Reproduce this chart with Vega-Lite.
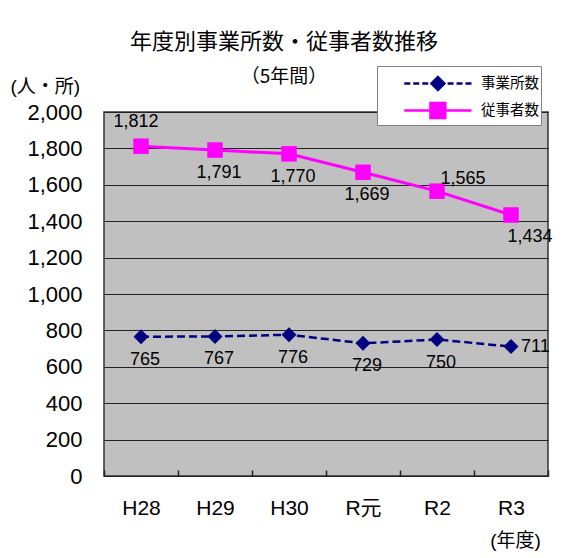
{
  "$schema": "https://vega.github.io/schema/vega-lite/v6.json",
  "width": 444,
  "height": 364,
  "autosize": {"type": "none"},
  "padding": {"left": 104, "top": 112, "right": 16, "bottom": 82},
  "background": "white",
  "config": {
    "font": "Liberation Sans, Noto Sans CJK JP",
    "view": {"fill": "#c0c0c0", "stroke": "#333333", "strokeWidth": 1.5}
  },
  "title": {
    "text": "年度別事業所数・従事者数推移",
    "subtitle": "（5年間）",
    "anchor": "middle",
    "frame": "group",
    "dx": -42,
    "offset": -22,
    "font": "Noto Sans CJK JP",
    "fontSize": 22,
    "fontWeight": "normal",
    "color": "black",
    "subtitleFont": "Noto Sans CJK JP",
    "subtitleFontSize": 19,
    "subtitleColor": "black",
    "subtitlePadding": 14
  },
  "data": {
    "values": [
      {"year": "H28", "series": "事業所数", "value": 765},
      {"year": "H29", "series": "事業所数", "value": 767},
      {"year": "H30", "series": "事業所数", "value": 776},
      {"year": "R元", "series": "事業所数", "value": 729},
      {"year": "R2", "series": "事業所数", "value": 750},
      {"year": "R3", "series": "事業所数", "value": 711},
      {"year": "H28", "series": "従事者数", "value": 1812},
      {"year": "H29", "series": "従事者数", "value": 1791},
      {"year": "H30", "series": "従事者数", "value": 1770},
      {"year": "R元", "series": "従事者数", "value": 1669},
      {"year": "R2", "series": "従事者数", "value": 1565},
      {"year": "R3", "series": "従事者数", "value": 1434}
    ]
  },
  "encoding": {
    "x": {
      "field": "year",
      "type": "ordinal",
      "sort": ["H28", "H29", "H30", "R元", "R2", "R3"],
      "scale": {"type": "band", "paddingInner": 0, "paddingOuter": 0},
      "axis": {
        "title": "(年度)",
        "titleX": 411,
        "titleY": 64,
        "titleAlign": "center",
        "titleBaseline": "middle",
        "titleFont": "Liberation Sans, Noto Sans CJK JP",
        "titleFontSize": 19,
        "titleFontWeight": "normal",
        "titleColor": "black",
        "labelAngle": 0,
        "labelFontSize": 21,
        "labelColor": "black",
        "labelPadding": 27,
        "ticks": true,
        "tickBand": "extent",
        "tickSize": -6,
        "tickColor": "#222222",
        "tickWidth": 1.5,
        "domain": false,
        "grid": false
      }
    },
    "y": {
      "field": "value",
      "type": "quantitative",
      "scale": {"domain": [0, 2000], "nice": false},
      "axis": {
        "title": "(人・所)",
        "titleAngle": 0,
        "titleX": -94,
        "titleY": -26,
        "titleAlign": "left",
        "titleBaseline": "middle",
        "titleFont": "Liberation Sans, Noto Sans CJK JP",
        "titleFontSize": 19,
        "titleFontWeight": "normal",
        "titleColor": "black",
        "values": [0, 200, 400, 600, 800, 1000, 1200, 1400, 1600, 1800, 2000],
        "format": ",.0f",
        "labelFontSize": 22,
        "labelColor": "black",
        "labelPadding": 22,
        "ticks": false,
        "domain": false,
        "grid": true,
        "gridColor": "#222222",
        "gridWidth": 1,
        "gridOpacity": 1
      }
    }
  },
  "layer": [
    {
      "transform": [{"filter": "datum.series === '事業所数'"}],
      "mark": {"type": "line", "strokeDash": [8, 4], "strokeWidth": 2.5},
      "encoding": {
        "color": {
          "field": "series",
          "type": "nominal",
          "scale": {"domain": ["事業所数", "従事者数"], "range": ["#000080", "#ff00ff"]},
          "legend": {
            "orient": "none",
            "legendX": 273,
            "legendY": -46,
            "title": null,
            "direction": "vertical",
            "symbolSize": 784,
            "symbolStrokeWidth": 2.5,
            "labelFont": "Noto Sans CJK JP",
            "labelFontSize": 14.5,
            "labelColor": "black",
            "labelOffset": 71,
            "rowPadding": 0,
            "padding": 2,
            "fillColor": "white",
            "strokeColor": "#808080",
            "encode": {
              "legend": {
                "update": {
                  "fill": {"value": "white"},
                  "stroke": {"value": "#808080"},
                  "strokeWidth": {"value": 1},
                  "width": {"value": 182},
                  "height": {"value": 60}
                }
              },
              "symbols": {
                "update": {
                  "shape": {"signal": "datum.value === '事業所数' ? 'M0.7,0H1.13M1.34,0H1.77M1.98,0H2.41M3.79,0H4.22M4.43,0H4.86M5.07,0H5.5M3.1,-0.46L3.56,0L3.1,0.46L2.64,0Z' : 'M0.7,0H5.5M2.57,-0.53H3.63V0.53H2.57Z'"},
                  "fill": {"scale": "color", "field": "value"},
                  "stroke": {"scale": "color", "field": "value"},
                  "fillOpacity": {"value": 1},
                  "strokeDash": {"value": []}
                }
              }
            }
          }
        }
      }
    },
    {
      "transform": [{"filter": "datum.series === '従事者数'"}],
      "mark": {"type": "line", "strokeWidth": 3},
      "encoding": {
        "color": {"field": "series", "type": "nominal"}
      }
    },
    {
      "transform": [{"filter": "datum.series === '事業所数'"}],
      "mark": {"type": "point", "shape": "diamond", "filled": true, "size": 225, "opacity": 1, "color": "#000080"}
    },
    {
      "transform": [{"filter": "datum.series === '従事者数'"}],
      "mark": {"type": "point", "shape": "square", "filled": true, "size": 240, "opacity": 1, "color": "#ff00ff"}
    },
    {
      "transform": [{"filter": "indexof([765, 767, 776, 729, 750, 1791, 1770, 1669], datum.value) >= 0"}],
      "mark": {"type": "text", "dy": 23, "dx": 4, "fontSize": 18, "color": "black", "baseline": "middle"},
      "encoding": {"text": {"field": "value", "type": "quantitative", "format": ","}}
    },
    {
      "transform": [{"filter": "datum.value === 711"}],
      "mark": {"type": "text", "dx": 10, "align": "left", "fontSize": 18, "color": "black", "baseline": "middle"},
      "encoding": {"text": {"field": "value", "type": "quantitative", "format": ","}}
    },
    {
      "transform": [{"filter": "datum.value === 1812"}],
      "mark": {"type": "text", "dy": -24, "dx": -5, "fontSize": 18, "color": "black", "baseline": "middle"},
      "encoding": {"text": {"field": "value", "type": "quantitative", "format": ","}}
    },
    {
      "transform": [{"filter": "datum.value === 1565"}],
      "mark": {"type": "text", "dy": -12, "dx": 26, "fontSize": 18, "color": "black", "baseline": "middle"},
      "encoding": {"text": {"field": "value", "type": "quantitative", "format": ","}}
    },
    {
      "transform": [{"filter": "datum.value === 1434"}],
      "mark": {"type": "text", "dy": 22, "dx": 19, "fontSize": 18, "color": "black", "baseline": "middle"},
      "encoding": {"text": {"field": "value", "type": "quantitative", "format": ","}}
    }
  ]
}
